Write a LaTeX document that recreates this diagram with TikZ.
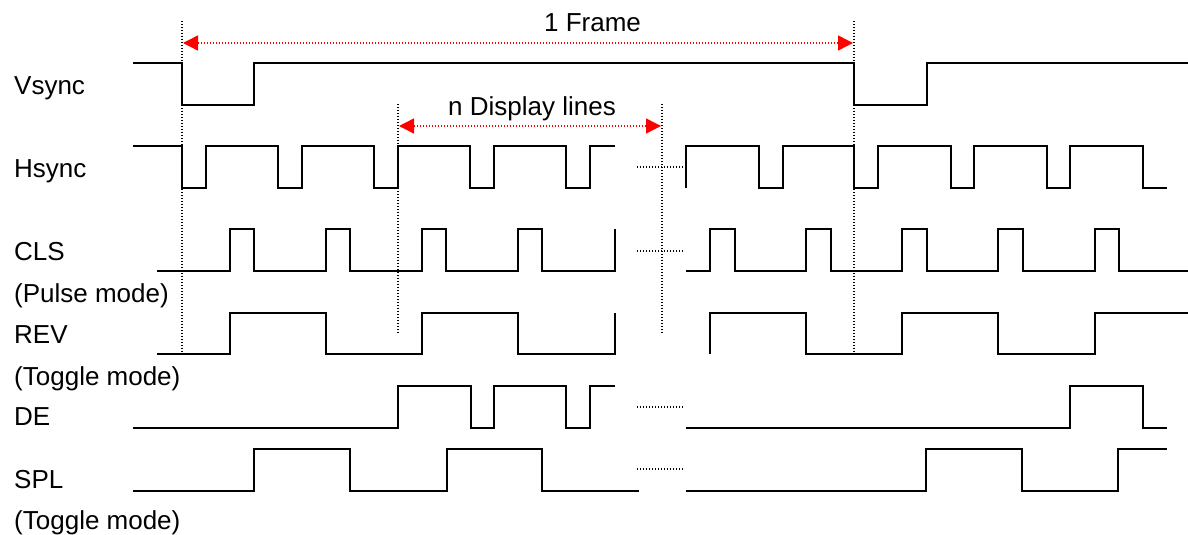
\documentclass[tikz,border=0pt]{standalone}
\usepackage{fontspec}
\setmainfont{Liberation Sans}
\usetikzlibrary{arrows.meta}
\begin{document}
\begin{tikzpicture}[x=1pt,y=-1pt,
  sig/.style={line width=1.9pt,line join=miter},
  guide/.style={line width=1.1pt,dash pattern=on 1.1pt off 1.9pt},
  brk/.style={line width=1.1pt,dash pattern=on 1.1pt off 1.9pt},
  meas/.style={red,line width=1.4pt,dash pattern=on 1.4pt off 1.6pt,
    {Triangle[length=15pt,width=15pt]}-{Triangle[length=15pt,width=15pt]}},
  lbl/.style={anchor=base west,inner sep=0pt,font=\fontsize{26pt}{30pt}\selectfont},
  ttl/.style={anchor=base,inner sep=0pt,font=\fontsize{26pt}{30pt}\selectfont}]
\useasboundingbox (0,0) rectangle (1188,535);
% labels
\node[lbl] (lv) at (14,94) {Vsync};
\node[lbl] (lh) at (14,177) {Hsync};
\node[lbl] (lc) at (14,260) {CLS};
\node[lbl] (lp) at (14,302) {(Pulse mode)};
\node[lbl] (lr) at (14,343) {REV};
\node[lbl] (lt1) at (14,385) {(Toggle mode)};
\node[lbl] (ld) at (14,425) {DE};
\node[lbl] (ls) at (14,488) {SPL};
\node[lbl] (lt2) at (14,529) {(Toggle mode)};
\node[ttl] (frame) at (592.5,32) {1 Frame};
\node[ttl] (disp) at (532,115) {n Display lines};
% guide lines
\coordinate (g1t) at (182,21);  \coordinate (g1b) at (182,354);
\coordinate (g2t) at (854,21);  \coordinate (g2b) at (854,354);
\coordinate (g3t) at (398,104); \coordinate (g3b) at (398,333);
\coordinate (g4t) at (662,104); \coordinate (g4b) at (662,333);
\draw[guide] (g1t) -- (g1b);
\draw[guide] (g2t) -- (g2b);
\draw[guide] (g3t) -- (g3b);
\draw[guide] (g4t) -- (g4b);
% break marks
\foreach \yy/\nm in {167/bh,251/bc,407/bd,469/bs}{
  \coordinate (\nm a) at (637,\yy); \coordinate (\nm b) at (683,\yy);
  \draw[brk] (\nm a) -- (\nm b);
}
% measurement arrows
\coordinate (fa) at (183,43); \coordinate (fb) at (853,43);
\coordinate (da) at (399,126); \coordinate (db) at (661,126);
\draw[meas] (fa) -- (fb);
\draw[meas] (da) -- (db);
% Vsync
\draw[sig] (133,63) -- (182,63) -- (182,105) -- (254,105) -- (254,63) -- (854,63) -- (854,105) -- (927,105) -- (927,63) -- (1188,63);
% Hsync
\draw[sig] (133,146) -- (182,146) -- (182,188) -- (206,188) -- (206,146) -- (278,146) -- (278,188) -- (302,188) -- (302,146) -- (374,146) -- (374,188) -- (398,188) -- (398,146) -- (470,146) -- (470,188) -- (494,188) -- (494,146) -- (566,146) -- (566,188) -- (590,188) -- (590,146) -- (615,146);
\draw[sig] (686,188) -- (686,146) -- (759,146) -- (759,188) -- (783,188) -- (783,146) -- (854,146) -- (854,188) -- (878,188) -- (878,146) -- (951,146) -- (951,188) -- (974,188) -- (974,146) -- (1047,146) -- (1047,188) -- (1070,188) -- (1070,146) -- (1143,146) -- (1143,188) -- (1167,188);
% CLS
\draw[sig] (157,271) -- (230,271) -- (230,229) -- (254,229) -- (254,271) -- (326,271) -- (326,229) -- (350,229) -- (350,271) -- (422,271) -- (422,229) -- (446,229) -- (446,271) -- (518,271) -- (518,229) -- (542,229) -- (542,271) -- (615,271) -- (615,229);
\draw[sig] (686,271) -- (710,271) -- (710,229) -- (735,229) -- (735,271) -- (806,271) -- (806,229) -- (831,229) -- (831,271) -- (902,271) -- (902,229) -- (927,229) -- (927,271) -- (998,271) -- (998,229) -- (1023,229) -- (1023,271) -- (1095,271) -- (1095,229) -- (1119,229) -- (1119,271) -- (1188,271);
% REV
\draw[sig] (157,354) -- (230,354) -- (230,313) -- (326,313) -- (326,354) -- (422,354) -- (422,313) -- (518,313) -- (518,354) -- (615,354) -- (615,313);
\draw[sig] (710,354) -- (710,313) -- (806,313) -- (806,354) -- (902,354) -- (902,313) -- (998,313) -- (998,354) -- (1095,354) -- (1095,313) -- (1188,313);
% DE
\draw[sig] (133,428) -- (398,428) -- (398,386) -- (471,386) -- (471,428) -- (494,428) -- (494,386) -- (566,386) -- (566,428) -- (590,428) -- (590,386) -- (615,386);
\draw[sig] (686,428) -- (1070,428) -- (1070,386) -- (1143,386) -- (1143,428) -- (1167,428);
% SPL
\draw[sig] (133,491) -- (254,491) -- (254,449) -- (350,449) -- (350,491) -- (447,491) -- (447,449) -- (542,449) -- (542,491) -- (639,491);
\draw[sig] (686,491) -- (926,491) -- (926,449) -- (1022,449) -- (1022,491) -- (1118,491) -- (1118,449) -- (1167,449);
\end{tikzpicture}
\end{document}
